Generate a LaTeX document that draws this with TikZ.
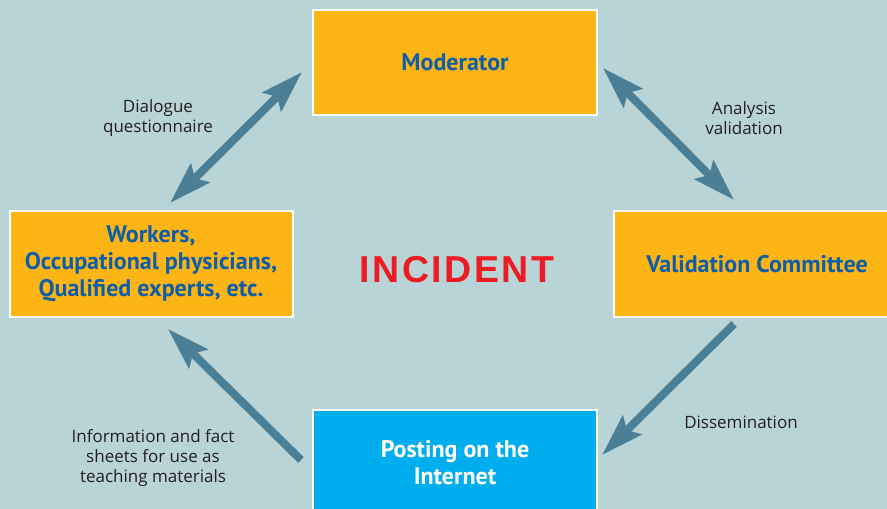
\documentclass[tikz,border=0pt]{standalone}
\usepackage{fontspec}
\setmainfont{Open Sans}
\newfontfamily\boxfont{PT Sans}
\newfontfamily\incfont[LetterSpace=6.5]{Liberation Sans}
\usetikzlibrary{arrows.meta}
\definecolor{bgteal}{HTML}{B9D4D6}
\definecolor{boxorange}{HTML}{FDB515}
\definecolor{boxblue}{HTML}{0D5DA8}
\definecolor{postcyan}{HTML}{00AEEF}
\definecolor{arrowblue}{HTML}{4A7F96}
\definecolor{incred}{HTML}{ED1C24}
\definecolor{notegray}{HTML}{231F20}
\begin{document}
\begin{tikzpicture}[x=1pt,y=-1pt]
        \tikzstyle{stage}=[draw=white,line width=2pt,fill=boxorange,minimum width=284pt,minimum height=105pt,inner sep=0pt,align=center,text=boxblue,font=\boxfont\bfseries\fontsize{24}{27}\selectfont]
        \tikzstyle{flow}=[draw=arrowblue,line width=8pt,-{Stealth[length=42pt,width=26pt,inset=7pt]}]
        \tikzstyle{twoway}=[flow,{Stealth[length=42pt,width=26pt,inset=7pt]}-{Stealth[length=42pt,width=26pt,inset=7pt]}]
        \tikzstyle{note}=[text=notegray,align=center,font=\fontsize{17}{20}\selectfont]
        \useasboundingbox (0,0) rectangle (887,509);
        \clip (0,0) rectangle (887,509);
        \fill[bgteal] (0,0) rectangle (887,509);
       \begin{scope}
         \node [stage] (mod) at (455,62.5) {Moderator};
         \node [stage,minimum width=283pt,minimum height=106pt] (wrk) at (151,264) {Workers,\\Occupational physicians,\\Qualified experts, etc.};
         \node [stage,minimum width=286pt,minimum height=106pt] (val) at (757,264) {Validation Committee};
         \node [stage,fill=postcyan,text=white,minimum height=106pt] (post) at (455,463) {Posting on the\\Internet};
         \node [text=incred,font=\incfont\bfseries\fontsize{37.5}{40}\selectfont] (inc) at (457,270) {INCIDENT};

         \path[twoway] ([xshift=19pt,yshift=7pt]wrk.north) -- ([xshift=-10pt,yshift=-9.5pt]mod.west);
         \path[twoway] ([xshift=5pt,yshift=-5.5pt]mod.east) -- ([xshift=-23pt,yshift=10pt]val.north);
         \path[flow] ([xshift=-23pt,yshift=-6pt]val.south) -- ([xshift=4pt,yshift=8pt]post.east);
         \path[flow] ([xshift=-11pt,yshift=3pt]post.west) -- ([xshift=17pt,yshift=-11pt]wrk.south);

         \node [note] (dlg) at (158,118) {Dialogue\\questionnaire};
         \node [note] (ana) at (744,118) {Analysis\\validation};
         \node [note] (dis) at (741,422) {Dissemination};
         \node [note] (inf) at (153,458) {Information and fact\\sheets for use as\\teaching materials};
        \end{scope}
      \end{tikzpicture}
\end{document}
